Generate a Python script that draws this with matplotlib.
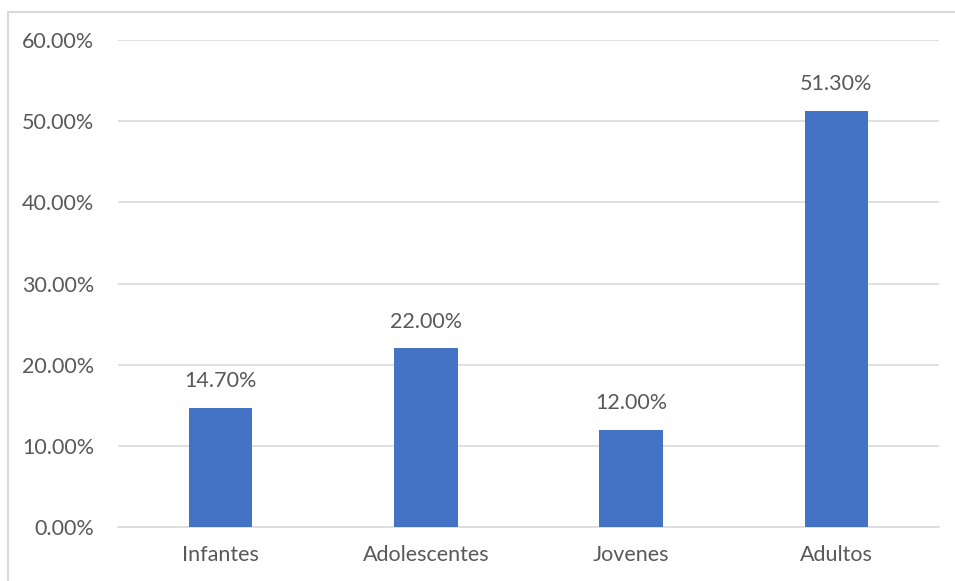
import matplotlib.pyplot as plt
import numpy as np
from matplotlib.patches import Rectangle
from matplotlib.ticker import FuncFormatter

categorias = ['Infantes', 'Adolescentes', 'Jovenes', 'Adultos']
porcentajes = [14.70, 22.00, 12.00, 51.30]
yticks = [0, 10, 20, 30, 40, 50, 60]

plt.rcParams['font.family'] = ['Lato', 'DejaVu Sans']
gris = '#595959'
azul = '#4472C4'
tam = 15.5

fig = plt.figure(figsize=(9.55, 5.81), dpi=100)
ax = fig.add_axes([118 / 955, 1 - 527 / 581, (939 - 118) / 955, (527 - 40) / 581])

# marco del area del grafico
fig.patches.append(Rectangle((8 / 955, -0.1), 1.2, 1.1 - 12 / 581,
                             transform=fig.transFigure, fill=False,
                             edgecolor='#d9d9d9', linewidth=1.5))

x = np.arange(len(categorias))
barras = ax.bar(x, porcentajes, width=0.31, color=azul, zorder=3)

for b, v in zip(barras, porcentajes):
    ax.text(b.get_x() + b.get_width() / 2, v + 2.0, f'{v:.2f}%',
            ha='center', va='bottom', fontsize=tam, color=gris)

ax.set_xlim(-0.5, len(categorias) - 0.5)
ax.set_ylim(0, 60)
ax.set_yticks(yticks)
ax.yaxis.set_major_formatter(FuncFormatter(lambda v, p: f'{v:.2f}%'))
ax.set_xticks(x)
ax.set_xticklabels(categorias)

ax.grid(axis='y', color='#d9d9d9', linewidth=1.2, zorder=0)
for s in ['top', 'right', 'left']:
    ax.spines[s].set_visible(False)
ax.spines['bottom'].set_color('#d9d9d9')
ax.spines['bottom'].set_linewidth(1.2)
ax.tick_params(axis='both', length=0, labelsize=tam, labelcolor=gris)
ax.tick_params(axis='y', pad=17)
ax.tick_params(axis='x', pad=13)

fig.savefig('out.png', dpi=100)
